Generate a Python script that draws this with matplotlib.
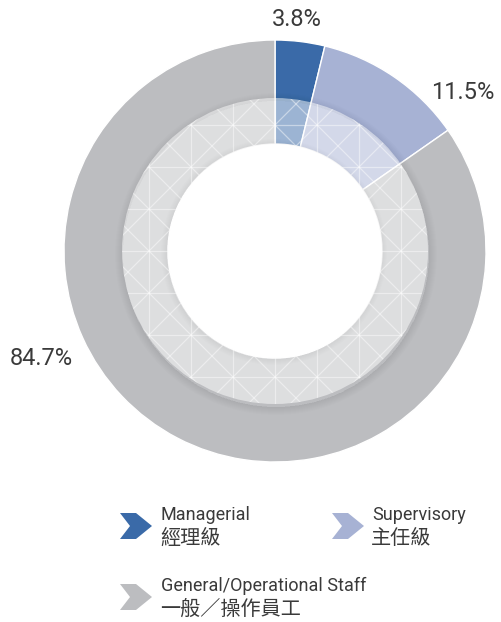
import numpy as np
import matplotlib
matplotlib.use("Agg")
import matplotlib.pyplot as plt
from matplotlib.patches import Wedge, Circle, Polygon
from matplotlib.collections import LineCollection

# data
categories_en = ["Managerial", "Supervisory", "General/Operational Staff"]
categories_zh = ["經理級", "主任級", "一般／操作員工"]
shares = [3.8, 11.5, 84.7]
colors = ["#3a6aa8", "#a7b2d4", "#bcbdc0"]

W, H = 502, 622
CX, CY = 275, H - 251          # ring centre in pixel coords (y up)
R_OUT, R_MID, R_HOLE = 211, 153, 107
TEXT = "#3a3a3a"
EN_FONT = ["Liberation Sans Narrow", "Roboto", "DejaVu Sans"]
ZH_FONT = ["Noto Sans CJK TC", "DejaVu Sans"]

fig = plt.figure(figsize=(W / 100, H / 100), dpi=100)
ax = fig.add_axes([0, 0, 1, 1])

ax.pie(shares, radius=R_OUT, center=(CX, CY), startangle=90, counterclock=False,
       colors=colors, wedgeprops=dict(width=R_OUT - R_HOLE, edgecolor="white", linewidth=1))
ax.set_xlim(0, W)
ax.set_ylim(0, H)
ax.set_aspect("equal")
ax.set_axis_off()

# soft shadow just outside the light ring
for k in range(1, 9):
    ax.add_patch(Wedge((CX + 1, CY - 3), R_MID + k, 0, 360, width=k,
                       facecolor="black", edgecolor="none", alpha=0.009))

# translucent inner ring
ring = Wedge((CX, CY), R_MID, 0, 360, width=R_MID - R_HOLE,
             facecolor="white", edgecolor="none", alpha=0.5)
ax.add_patch(ring)

# shadow on the ring around the hole
for k in range(1, 7):
    ax.add_patch(Wedge((CX - 1, CY - 1), R_HOLE + k, 0, 360, width=k,
                       facecolor="black", edgecolor="none", alpha=0.008))

# triangle line pattern on the light ring
step = 42
segs = []
for g in np.arange(CX - 5 * step, CX + 5 * step, step):
    segs.append([(g, 0), (g, H)])
for g in np.arange(CY - 5 * step, CY + 5 * step, step):
    segs.append([(0, g), (W, g)])
for g in np.arange(-20 * step, 20 * step, step):
    segs.append([(CX + g - 400, CY - 400), (CX + g + 400, CY + 400)])
    segs.append([(CX + g - 400, CY + 400), (CX + g + 400, CY - 400)])
lines = LineCollection(segs, colors="white", linewidths=0.9, alpha=0.45)
ax.add_collection(lines)
clip = Wedge((CX, CY), R_MID, 0, 360, width=R_MID - R_HOLE, transform=ax.transData)
lines.set_clip_path(clip)

ax.add_patch(Circle((CX, CY), R_HOLE, facecolor="white", edgecolor="none"))

# percentage labels
label_pos = [(297, H - 19), (463, H - 92), (41, H - 358)]
for (x, y), v in zip(label_pos, shares):
    ax.text(x, y, f"{v}%", ha="center", va="center", fontsize=17,
            color=TEXT, family=EN_FONT)

# legend with chevrons
def chevron(x0, ytop, color, w=32, h=26, a=16, n=10):
    yt, yb = ytop, ytop - h
    pts = [(x0, yt), (x0 + a, yt), (x0 + w, yt - h / 2), (x0 + a, yb), (x0, yb),
           (x0 + n, yt - h / 2)]
    ax.add_patch(Polygon(pts, closed=True, facecolor=color, edgecolor="none"))

legend_pos = [(120, 161, H - 513), (332, 372, H - 513), (120, 161, H - 584)]
for (cx0, tx, ytop), en, zh, c in zip(legend_pos, categories_en, categories_zh, colors):
    chevron(cx0, ytop, c)
    ax.text(tx, ytop + 7, en, ha="left", va="top", fontsize=13, color=TEXT, family=EN_FONT)
    ax.text(tx - 1, ytop - 15, zh, ha="left", va="top", fontsize=14.5, color=TEXT, family=ZH_FONT)

fig.savefig("out.png", dpi=100, facecolor="white")
